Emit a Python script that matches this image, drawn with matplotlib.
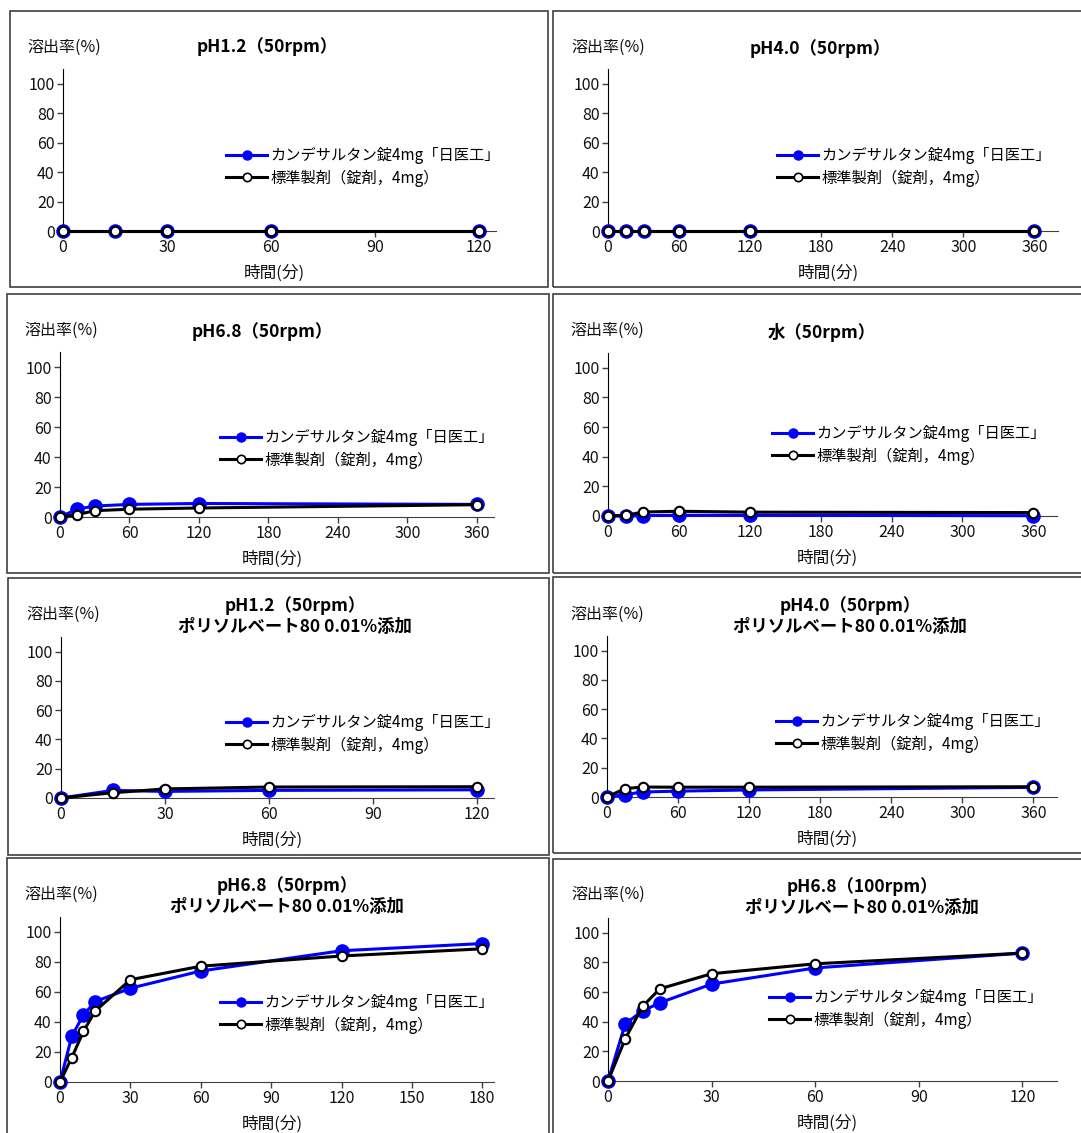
import numpy as np
import matplotlib
matplotlib.use("Agg")
import matplotlib.pyplot as plt
from matplotlib.lines import Line2D
from matplotlib.patches import Rectangle

plt.rcParams['font.family'] = ['Noto Sans CJK JP', 'DejaVu Sans']

W, H = 1081, 1133

# ---- data (time in min, dissolution in %) ----
t_a = [0, 15, 30, 60, 120]
t_b = [0, 15, 30, 60, 120, 360]
t_c = [0, 5, 10, 15, 30, 60, 120, 180]
t_d = [0, 5, 10, 15, 30, 60, 120]

test_ph12 = [0, 0, 0, 0, 0]
ref_ph12 = [0, 0, 0, 0, 0]
test_ph40 = [0, 0, 0, 0, 0, 0]
ref_ph40 = [0, 0, 0, 0, 0, 0]
test_ph68 = [0, 5.3, 7.3, 8.4, 9.0, 8.4]
ref_ph68 = [0, 1.6, 4.2, 5.2, 6.0, 8.2]
test_water = [0, 0, 0.3, 0.5, 0.5, 0.2]
ref_water = [0, 0.5, 2.7, 3.2, 2.6, 2.3]
test_ph12_ps = [0, 5.2, 4.5, 5.2, 5.6]
ref_ph12_ps = [0, 3.6, 6.2, 7.5, 7.7]
test_ph40_ps = [0, 1.6, 3.4, 4.0, 4.8, 6.6]
ref_ph40_ps = [0, 5.7, 6.8, 6.7, 6.7, 7.0]
test_ph68_ps = [0, 30.4, 44.8, 53.6, 62.5, 74.0, 87.5, 92.3]
ref_ph68_ps = [0, 16.2, 33.8, 47.3, 68.2, 77.2, 84.0, 88.8]
test_ph68_100 = [0, 38.7, 47.2, 52.8, 65.4, 76.3, 86.3]
ref_ph68_100 = [0, 28.5, 50.3, 62.2, 72.4, 79.1, 86.3]

test_label = "カンデサルタン錠4mg「日医工」"
ref_label = "標準製剤（錠剤，4mg）"
ps = "ポリソルベート80 0.01%添加"

titles = ["pH1.2（50rpm）", "pH4.0（50rpm）", "pH6.8（50rpm）", "水（50rpm）",
          "pH1.2（50rpm）\n" + ps, "pH4.0（50rpm）\n" + ps,
          "pH6.8（50rpm）\n" + ps, "pH6.8（100rpm）\n" + ps]

# panel layout in pixels: box, axes (left, right, y0, ytop), title xy, ylabel xy, legend xy, xmax, xstep
panels = [
    dict(t=t_a, test=test_ph12, ref=ref_ph12, box=(10, 11, 538, 276), ax=(63, 496, 231, 69),
         title=(267, 47), ylab=(27, 47), leg=(226, 147), xmax=125, xstep=30),
    dict(t=t_b, test=test_ph40, ref=ref_ph40, box=(553, 11, 540, 276), ax=(608, 1058, 231, 69),
         title=(820, 49), ylab=(571, 47), leg=(777, 147), xmax=380, xstep=60),
    dict(t=t_b, test=test_ph68, ref=ref_ph68, box=(7, 294, 542, 279), ax=(60, 494, 517, 352),
         title=(262, 332), ylab=(24, 330), leg=(220, 429), xmax=375, xstep=60),
    dict(t=t_b, test=test_water, ref=ref_water, box=(553, 294, 540, 279), ax=(608, 1057, 516, 353),
         title=(822, 333), ylab=(570, 330), leg=(772, 425), xmax=380, xstep=60),
    dict(t=t_a, test=test_ph12_ps, ref=ref_ph12_ps, box=(8, 578, 541, 277), ax=(61, 494, 798, 637),
         title=(295, 616), ylab=(26, 614), leg=(226, 714), xmax=125, xstep=30),
    dict(t=t_b, test=test_ph40_ps, ref=ref_ph40_ps, box=(553, 577, 540, 276), ax=(607, 1057, 797, 636),
         title=(850, 616), ylab=(570, 614), leg=(776, 713), xmax=380, xstep=60),
    dict(t=t_c, test=test_ph68_ps, ref=ref_ph68_ps, box=(7, 858, 542, 300), ax=(60, 494, 1082, 917),
         title=(287, 896), ylab=(24, 894), leg=(220, 994), xmax=185, xstep=30),
    dict(t=t_d, test=test_ph68_100, ref=ref_ph68_100, box=(553, 859, 540, 300), ax=(608, 1057, 1081, 918),
         title=(862, 897), ylab=(571, 894), leg=(769, 989), xmax=130, xstep=30),
]

fig = plt.figure(figsize=(W / 100, H / 100), dpi=100)
fig.patch.set_facecolor('white')

def fx(px):
    return px / W

def fy(py):
    return 1 - py / H

edge = '#404040'

for p, title in zip(panels, titles):
    bx, by, bw, bh = p['box']
    fig.patches.append(Rectangle((fx(bx), fy(by + bh)), bw / W, bh / H, transform=fig.transFigure,
                                 fill=False, edgecolor=edge, lw=1.2, zorder=0))
    l, r, y0, yt = p['ax']
    ax = fig.add_axes([fx(l), fy(y0), (r - l) / W, (y0 - yt) / H])
    ax.plot(p['t'], p['test'], color='#0000FF', lw=2.2, marker='o', ms=9.5,
            mfc='#0000FF', mec='#0000FF', clip_on=False, zorder=3)
    ax.plot(p['t'], p['ref'], color='black', lw=2.2, marker='o', ms=6.8,
            mfc='white', mec='black', mew=1.5, clip_on=False, zorder=4)
    ax.set_xlim(0, p['xmax'])
    ax.set_ylim(0, 110)
    ax.set_yticks(np.arange(0, 101, 20))
    ax.set_xticks(np.arange(0, p['xmax'] + 1, p['xstep']))
    for s in ['top', 'right']:
        ax.spines[s].set_visible(False)
    ax.spines['left'].set_color('black')
    ax.spines['bottom'].set_color(edge)
    ax.tick_params(labelsize=11.5, length=4, width=1, color=edge, pad=2, labelcolor='#111111')
    ax.set_facecolor('none')

    fig.text(fx(p['title'][0]), fy(p['title'][1]), title, ha='center', va='center',
             fontsize=12.5, fontweight='bold', linespacing=1.15)
    fig.text(fx(p['ylab'][0]), fy(p['ylab'][1]), "溶出率(%)", ha='left', va='center',
             fontsize=11.5, color='#111111')
    fig.text(fx((l + r) / 2 - 5), fy(y0 + 42), "時間(分)", ha='center', va='center',
             fontsize=12, color='#111111')

    h1 = Line2D([], [], color='#0000FF', lw=2.2, marker='o', ms=6.5, mfc='#0000FF', mec='#0000FF')
    h2 = Line2D([], [], color='black', lw=2.2, marker='o', ms=6, mfc='white', mec='black', mew=1.2)
    ax.legend([h1, h2], [test_label, ref_label], loc='upper left',
              bbox_to_anchor=(fx(p['leg'][0]), fy(p['leg'][1])), bbox_transform=fig.transFigure,
              frameon=False, fontsize=11, handlelength=2.7, handletextpad=0.2,
              labelspacing=0.35, borderpad=0, borderaxespad=0)

fig.savefig('out.png', dpi=100)
